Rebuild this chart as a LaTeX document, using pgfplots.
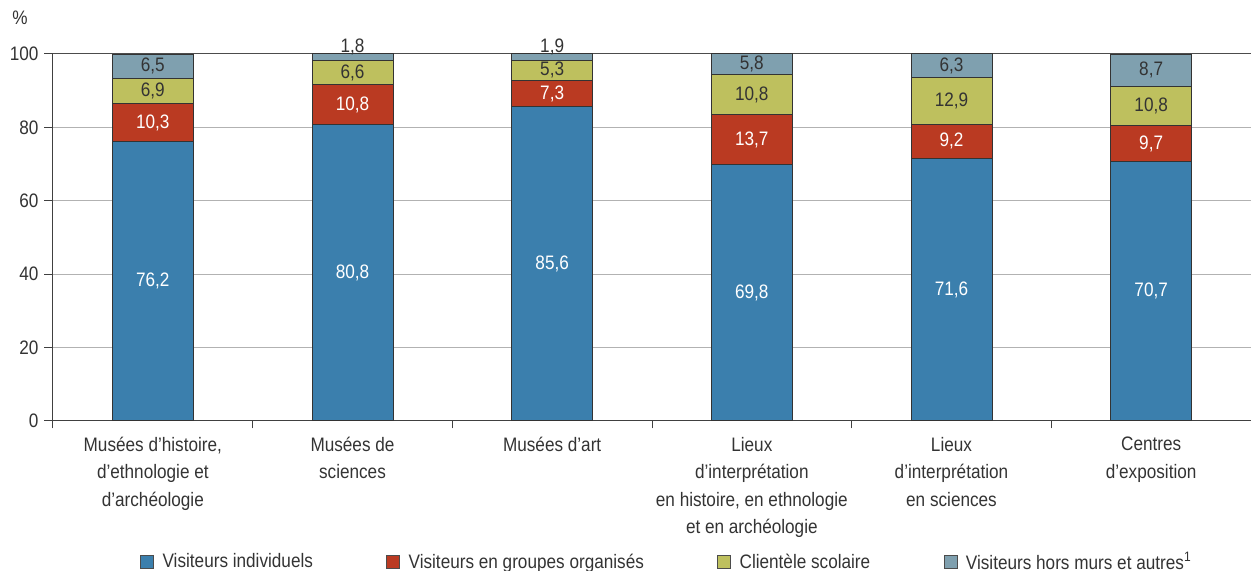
\documentclass[border=0pt]{standalone}
\usepackage{fontspec}
\setmainfont{Liberation Sans}[FakeStretch=0.88]
\usepackage{pgfplots}
\usepackage{pgfplotstable}
\pgfplotsset{compat=1.18}
\definecolor{cBlue}{HTML}{3B7FAD}
\definecolor{cRed}{HTML}{BA3A22}
\definecolor{cOlive}{HTML}{BEC05E}
\definecolor{cGray}{HTML}{7FA0AF}
\definecolor{cText}{HTML}{333333}
\newcommand\lbl{\fontsize{11.7pt}{16.5pt}\selectfont}

\pgfplotstableread{
x v off
0 76.2 0
1 80.8 0
2 85.6 0
3 69.8 0
4 71.6 0
5 70.7 0
}\tA
\pgfplotstableread{
x v off
0 10.3 0
1 10.8 0
2 7.3 0
3 13.7 0
4 9.2 0
5 9.7 0
}\tB
\pgfplotstableread{
x v off
0 6.9 0
1 6.6 0
2 5.3 0
3 10.8 0
4 12.9 0
5 10.8 0
}\tC
\pgfplotstableread{
x v off
0 6.5 0
1 1.8 2.8
2 1.9 2.8
3 5.8 0
4 6.3 0
5 8.7 0
}\tD

% about 2.2pt per y unit
\pgfplotsset{
  lab/.style={
    point meta=explicit,
    nodes near coords={\pgfmathprintnumber[fixed,fixed zerofill,precision=1,use comma]{\pgfplotspointmeta}},
    visualization depends on={\thisrow{off} \as \offv},
    every node near coord/.append style={font=\lbl, anchor=center, inner sep=0pt, text=#1,
      yshift={\offv*2.202pt}},
  }
}

\begin{document}
\begin{tikzpicture}[x=0.6pt,y=0.6pt]
\path[use as bounding box] (0,0) rectangle (1251,571);
\begin{axis}[
  at={(31.8pt,90pt)}, anchor=south west,
  scale only axis, width=718.8pt, height=220.53pt,
  ybar stacked, bar width=48.6pt,
  xmin=-0.5, xmax=5.5, ymin=0, ymax=100.15,
  axis lines*=left,
  axis line style={draw=black!75, line width=0.6pt},
  ytick={0,20,...,100},
  xtick={0,...,5},
  xticklabels={{Musées d’histoire,\\d’ethnologie et\\d’archéologie},
               {Musées de\\sciences},
               {Musées d’art},
               {Lieux\\d’interprétation\\en histoire, en ethnologie\\et en archéologie},
               {Lieux\\d’interprétation\\en sciences},
               {Centres\\d’exposition}},
  minor xtick={-0.5,0.5,1.5,...,4.5},
  major x tick style={draw=none},
  minor x tick style={draw=black!75, line width=0.6pt},
  y tick style={draw=black!75, line width=0.6pt},
  tick align=outside,
  major tick length=5.2pt, minor tick length=4.5pt,
  ymajorgrids, grid style={draw=black!30, line width=0.6pt},
  extra y ticks={100}, extra y tick labels={},
  extra y tick style={grid style={draw=black!70, line width=0.6pt}, major tick length=0pt},
  /pgf/number format/assume math mode=true,
  tick label style={font=\lbl, text=cText},
  xticklabel style={align=center, anchor=north, yshift=-0.8pt},
  legend style={at={(0.513,-0.384)}, anchor=center, draw=none, fill=none,
    legend columns=4, font=\lbl, text=cText,
    /tikz/every odd column/.append style={column sep=3pt},
    /tikz/every even column/.append style={column sep=42pt}},
  legend image code/.code={\draw[#1,draw=black!70,line width=0.6pt] (0pt,-3.9pt) rectangle (7.8pt,3.9pt);},
  every axis plot/.append style={draw=black!80, line width=0.6pt},
]
\addplot[fill=cBlue, lab=white] table[x=x,y=v,meta=v] {\tA};
\addplot[fill=cRed, lab=white] table[x=x,y=v,meta=v] {\tB};
\addplot[fill=cOlive, lab=cText] table[x=x,y=v,meta=v] {\tC};
\addplot[fill=cGray, lab=cText] table[x=x,y=v,meta=v] {\tD};
\legend{Visiteurs individuels, Visiteurs en groupes organisés, Clientèle scolaire, Visiteurs hors murs et autres\textsuperscript{1}}
\end{axis}
\node[font=\lbl, text=cText] at (20,553) {\%};
\end{tikzpicture}
\end{document}
